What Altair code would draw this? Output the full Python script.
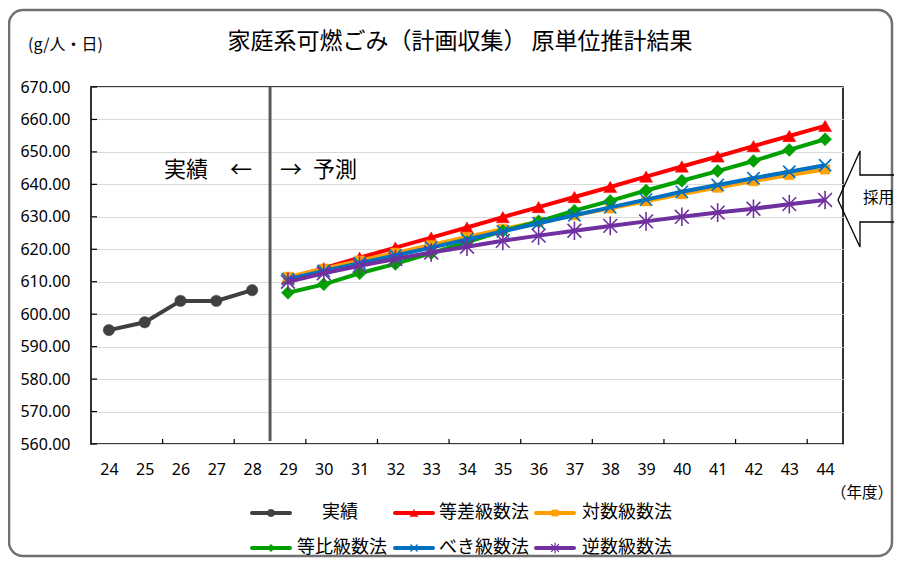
import altair as alt
import pandas as pd

# ---------------- data ----------------
years_actual = [24, 25, 26, 27, 28]
actual = [595.1, 597.5, 604.1, 604.1, 607.4]

years_forecast = [29, 30, 31, 32, 33, 34, 35, 36, 37, 38, 39, 40, 41, 42, 43, 44]
arith = [611.1, 614.2, 617.4, 620.5, 623.6, 626.7, 629.9, 633.0, 636.1, 639.2, 642.4, 645.5, 648.6, 651.8, 654.9, 658.0]
logar = [611.5, 614.0, 616.5, 618.9, 621.3, 623.8, 626.2, 628.5, 630.5, 632.6, 634.8, 637.0, 639.0, 641.0, 642.9, 644.6]
geom = [606.6, 609.2, 612.6, 615.5, 618.8, 622.2, 625.6, 628.6, 631.9, 634.9, 638.1, 641.1, 644.1, 647.2, 650.6, 653.9]
power = [610.8, 613.3, 615.7, 618.1, 620.5, 623.0, 625.5, 628.0, 630.5, 632.9, 635.3, 637.7, 639.8, 641.9, 643.9, 645.9]
recip = [610.0, 612.6, 614.9, 617.0, 619.0, 620.8, 622.6, 624.2, 625.7, 627.2, 628.6, 630.0, 631.3, 632.5, 633.9, 635.2]

names = ["実績", "等差級数法", "対数級数法", "等比級数法", "べき級数法", "逆数級数法"]
colors = ["#404040", "#ff0000", "#ffa000", "#00a000", "#0070c0", "#7030a0"]

y_ticks = [560, 570, 580, 590, 600, 610, 620, 630, 640, 650, 660, 670]
x_ticks = [24, 25, 26, 27, 28, 29, 30, 31, 32, 33, 34, 35, 36, 37, 38, 39, 40, 41, 42, 43, 44]
x_minor_ticks = [25.5, 27.5, 29.5, 31.5, 33.5, 35.5, 37.5, 39.5, 41.5, 43.5]
divider = [28.5]

title_text = "家庭系可燃ごみ（計画収集） 原単位推計結果"
unit_text = "(g/人・日)"
year_text = "（年度）"

# ---------------- styles ----------------
JP = "Noto Sans CJK JP"
NUM = "Noto Sans"
W, H = 752, 357

X_PATH = "M-1,-1L1,1M-1,1L1,-1"
AST_PATH = "M-1,-1L1,1M-1,1L1,-1M0,-1.35L0,1.35"
shapes = ["circle", "triangle-up", "square", "diamond", X_PATH, AST_PATH]
sizes = [130, 170, 90, 170, 150, 190]
msizes = [55, 70, 40, 60, 50, 60]
swidths = [0.5, 0.5, 0.5, 0.5, 1.6, 1.6]

xs = alt.Scale(domain=[23.5, 44.5], nice=False, zero=False)
ys = alt.Scale(domain=[560, 670], nice=False, zero=False)

x_axis = alt.Axis(values=x_ticks, format="d", grid=False, ticks=False, domain=False,
                  labelPadding=17, labelFontSize=16, labelFont=NUM, labelColor="black",
                  title=None)
y_axis = alt.Axis(values=y_ticks, format=".2f", grid=True, gridColor="#d9d9d9", gridWidth=1.2,
                  ticks=False, domain=False, labelPadding=21, labelFontSize=16,
                  labelFont=NUM, labelColor="black", title=None)


def X(field):
    return alt.X(field, scale=xs, axis=x_axis)


def Y(field):
    return alt.Y(field, scale=ys, axis=y_axis)


one = pd.DataFrame({"a": [0]})
layers = []

# outer rounded frame
layers.append(
    alt.Chart(one).mark_rect(cornerRadius=14, fill="white", fillOpacity=0,
                             stroke="#707070", strokeWidth=2.5)
    .encode(x=alt.value(-82), x2=alt.value(801), y=alt.value(-77), y2=alt.value(469))
)

# x minor inward ticks
layers.append(
    alt.Chart(pd.DataFrame({"t": x_minor_ticks})).mark_rule(color="black", strokeWidth=1.2)
    .encode(x=X("t:Q"), y=alt.value(H), y2=alt.value(H - 5))
)
# y inward ticks
layers.append(
    alt.Chart(pd.DataFrame({"v": y_ticks})).mark_rule(color="black", strokeWidth=1.2)
    .encode(y=Y("v:Q"), x=alt.value(0), x2=alt.value(6))
)

# divider line actual / forecast
layers.append(
    alt.Chart(pd.DataFrame({"d": divider})).mark_rule(color="#5a5a5a", strokeWidth=3)
    .encode(x=X("d:Q"), y=alt.value(0), y2=alt.value(H - 3))
)

series_vals = [actual, arith, logar, geom, power, recip]
for i, (nm, col, vals) in enumerate(zip(names, colors, series_vals)):
    yrs = years_actual if i == 0 else years_forecast
    df = pd.DataFrame({"year": yrs, "value": vals, "series": nm})
    layers.append(
        alt.Chart(df).mark_line(color=col, strokeWidth=4)
        .encode(x=X("year:Q"), y=Y("value:Q"))
    )
    layers.append(
        alt.Chart(df).mark_point(shape=shapes[i], filled=True, size=sizes[i], color=col,
                                 stroke=col, strokeWidth=swidths[i], opacity=1)
        .encode(x=X("year:Q"), y=Y("value:Q"))
    )

# ---------------- texts ----------------
def text(t, x, y, size, align="left", font=JP):
    return alt.Chart(one).mark_text(text=t, align=align, baseline="middle", fontSize=size,
                                    font=font, color="black").encode(
        x=alt.value(x), y=alt.value(y))


layers.append(text(title_text, 369, -45, 23, "center"))
layers.append(text(unit_text, -63, -42, 16))
layers.append(text("実績\u2002\u2002←", 161, 83, 22, "right"))
layers.append(text("→\u2002予測", 189, 83, 22, "left"))
layers.append(text(year_text, 740, 406, 15.5))
layers.append(text("採用", 772, 111, 15.5))

# left-pointing block arrow (decoration)
ARROW = "M1,-0.4L-0.517,-0.4L-0.517,-0.8L-0.883,0.017L-0.517,0.8L-0.517,0.383L1,0.383"
layers.append(
    alt.Chart(one).mark_point(shape=ARROW, size=14400, filled=False, stroke="black",
                              strokeWidth=1.3, opacity=1)
    .encode(x=alt.value(800), y=alt.value(112))
)

# ---------------- manual legend ----------------
col_x = [161, 304, 445]
row_y = [426, 461]
text_x = [[231, 348, 491], [206, 348, 491]]
for i, (nm, col) in enumerate(zip(names, colors)):
    r, c = divmod(i, 3)
    lx, ly = col_x[c], row_y[r]
    layers.append(
        alt.Chart(one).mark_rule(color=col, strokeWidth=4, strokeCap="round")
        .encode(x=alt.value(lx), x2=alt.value(lx + 38), y=alt.value(ly))
    )
    layers.append(
        alt.Chart(one).mark_point(shape=shapes[i], filled=True, size=msizes[i], color=col,
                                  stroke=col, strokeWidth=swidths[i] * 0.8, opacity=1)
        .encode(x=alt.value(lx + 19), y=alt.value(ly))
    )
    layers.append(text(nm, text_x[r][c], ly, 18))

chart = alt.layer(*layers).properties(
    width=W, height=H,
    padding={"left": 83, "top": 79, "right": 51, "bottom": 114},
    autosize=alt.AutoSizeParams(type="none"),
    background="white",
).configure_view(stroke="black", strokeWidth=1.6)

chart.save("out.html", embed_options={"renderer": "svg", "actions": False})
